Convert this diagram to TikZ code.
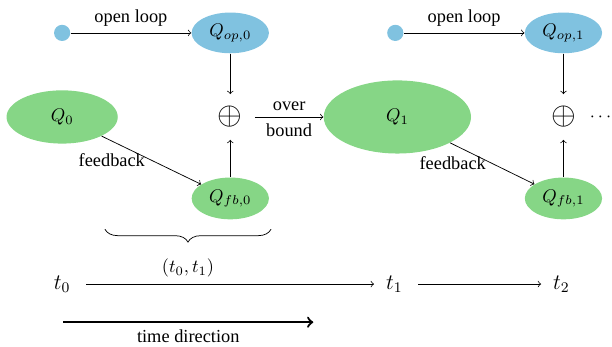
\documentclass[tikz,border=0pt]{standalone}
\usepackage{amsmath,amssymb}
\usepackage{fontspec}
\setmainfont{Liberation Serif}
\usetikzlibrary{shapes.geometric,decorations.pathreplacing}

\definecolor{opblue}{RGB}{128,194,224}
\definecolor{fbgreen}{RGB}{134,214,134}

\begin{document}
\begin{tikzpicture}[
    src/.style={circle, fill=opblue, minimum size=0.31cm, inner sep=0pt},
    opnode/.style={ellipse, fill=opblue, minimum width=1.48cm, minimum height=0.78cm, inner sep=0pt},
    fbnode/.style={ellipse, fill=fbgreen, minimum width=1.48cm, minimum height=0.8cm, inner sep=0pt},
    statenode/.style={ellipse, fill=fbgreen, inner sep=0pt},
    sumnode/.style={font=\fontsize{16}{19}\selectfont, inner sep=6.5pt},
    tnode/.style={font=\large},
  ]
  \useasboundingbox (0,0) rectangle (11.72,6.63);

  % First stage
  \node[src]    (src0) at (1.19,6.0) {};
  \node[opnode] (qop0) at (4.41,6.0) {$Q_{op,0}$};
  \node[statenode, minimum width=2.13cm, minimum height=1.02cm] (q0) at (1.19,4.39) {$Q_0$};
  \node[sumnode] (plus0) at (4.41,4.39) {$\oplus$};
  \node[fbnode] (qfb0) at (4.41,2.83) {$Q_{fb,0}$};

  % Second stage
  \node[src]    (src1) at (7.57,6.0) {};
  \node[opnode] (qop1) at (10.79,6.0) {$Q_{op,1}$};
  \node[statenode, minimum width=2.82cm, minimum height=1.40cm] (q1) at (7.61,4.39) {$Q_1$};
  \node[sumnode] (plus1) at (10.79,4.39) {$\oplus$};
  \node[fbnode] (qfb1) at (10.79,2.83) {$Q_{fb,1}$};
  \node (more) at (11.53,4.39) {$\cdots$};

  \draw[->] (src0) -- node[above] {open loop} (qop0);
  \draw[->] (qop0) -- (plus0);
  \draw[->] (q0) -- node[midway, left] {feedback} (qfb0);
  \draw[->] (qfb0) -- (plus0);
  \draw[->] (plus0) -- node[above] {over} node[below] {bound} (q1);

  \draw[->] (src1) -- node[above] {open loop} (qop1);
  \draw[->] (qop1) -- (plus1);
  \draw[->] (q1) -- node[midway, left] {feedback} (qfb1);
  \draw[->] (qfb1) -- (plus1);

  % Time axis
  \coordinate (bl) at (2.01,2.24);
  \coordinate (br) at (5.19,2.24);
  \draw[decorate, decoration={brace, amplitude=7pt, mirror}] (bl) -- node[midway, below=0.45cm] {$(t_0,t_1)$} (br);

  \node[tnode] (t0) at (1.19,1.19) {$t_0$};
  \node[tnode] (t1) at (7.55,1.19) {$t_1$};
  \node[tnode] (t2) at (10.75,1.19) {$t_2$};
  \draw[->, shorten <=5pt, shorten >=3pt] (t0) -- (t1);
  \draw[->, shorten <=5pt, shorten >=3pt] (t1) -- (t2);

  \coordinate (ds) at (1.21,0.46);
  \coordinate (de) at (6.00,0.46);
  \draw[->, very thick] (ds) -- node[below] {time direction} (de);
\end{tikzpicture}
\end{document}
